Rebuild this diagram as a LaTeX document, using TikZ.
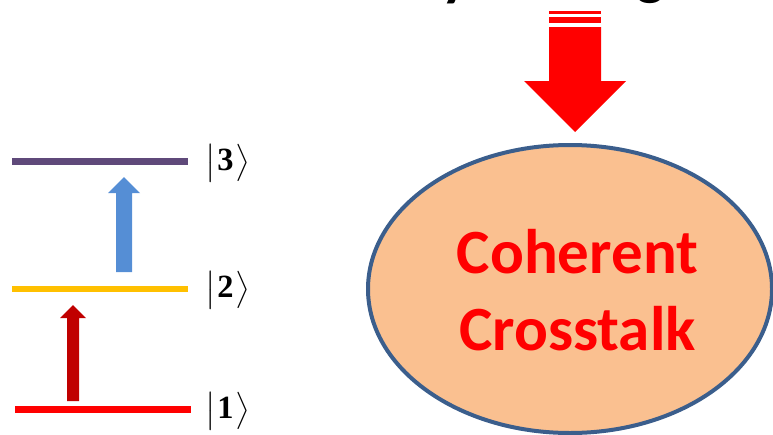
\documentclass[tikz,border=0pt]{standalone}
\usepackage{fontspec}
\usepackage{amsmath}
\newfontfamily\carlito{Carlito}
\newfontfamily\libserif{Liberation Serif}
\usetikzlibrary{shapes.geometric}
\definecolor{lvlthree}{HTML}{5F497A}
\definecolor{lvltwo}{HTML}{FFC000}
\definecolor{lvlone}{HTML}{FF0000}
\definecolor{arrowred}{HTML}{C00000}
\definecolor{arrowblue}{HTML}{558ED5}
\definecolor{bigred}{HTML}{FF0000}
\definecolor{ellfill}{HTML}{FAC090}
\definecolor{ellline}{HTML}{3B5E8C}
\newcommand{\myket}[1]{\scalebox{1.5}{$\bigl|\mkern1mu\text{\libserif\bfseries\fontsize{21.6}{24}\selectfont #1}\mkern1mu\bigr\rangle$}}
\begin{document}
\begin{tikzpicture}[x=1pt,y=-1pt,
  level/.style={line width=6.5pt},
  ketlabel/.style={anchor=west,inner sep=0pt,font=\fontsize{20}{24}\selectfont},
  crosstxt/.style={anchor=base,inner sep=0pt,text=bigred,font=\carlito\bfseries\fontsize{63}{77}\selectfont},
  toptxt/.style={anchor=base,inner sep=0pt,font=\carlito\bfseries\fontsize{60}{72}\selectfont}]
\useasboundingbox (0,0) rectangle (773,434);
% top text fragments (cut off)
\begin{scope}
\clip (0,0) rectangle (773,434);
\node[toptxt] (ty) at (456,-6) {y};
\node[toptxt] (tg) at (651,-7) {g};
\end{scope}
% levels
\coordinate (l3a) at (12,161.5); \coordinate (l3b) at (188,161.5);
\coordinate (l2a) at (12,289); \coordinate (l2b) at (188,289);
\coordinate (l1a) at (15,409.5); \coordinate (l1b) at (191,409.5);
\draw[level,lvlthree] (l3a) -- (l3b);
\draw[level,lvltwo] (l2a) -- (l2b);
\draw[level,lvlone] (l1a) -- (l1b);
\node[ketlabel] (k3) at (205,163) {\myket{3}};
\node[ketlabel] (k2) at (205,290) {\myket{2}};
\node[ketlabel] (k1) at (205,411) {\myket{1}};
% transition arrows
\fill[arrowblue] (116,272) -- (116,193) -- (108,193) -- (124,177) -- (140,193) -- (132,193) -- (132,272) -- cycle;
\fill[arrowred] (67,401) -- (67,318) -- (60,318) -- (73,305) -- (86,318) -- (79,318) -- (79,401) -- cycle;
% ellipse
\node[ellipse,draw=ellline,line width=4pt,fill=ellfill,minimum width=404pt,minimum height=288pt,inner sep=0pt] (ell) at (570,289) {};
\node[crosstxt] (c1) at (577.5,273) {Coherent};
\node[crosstxt] (c2) at (577.5,350) {Crosstalk};
% big red arrow
\fill[bigred] (549,11) rectangle (601,14);
\fill[bigred] (549,17) rectangle (601,23);
\fill[bigred] (549,27) -- (549,81) -- (524,81) -- (575,132) -- (626,81) -- (601,81) -- (601,27) -- cycle;
\end{tikzpicture}
\end{document}
